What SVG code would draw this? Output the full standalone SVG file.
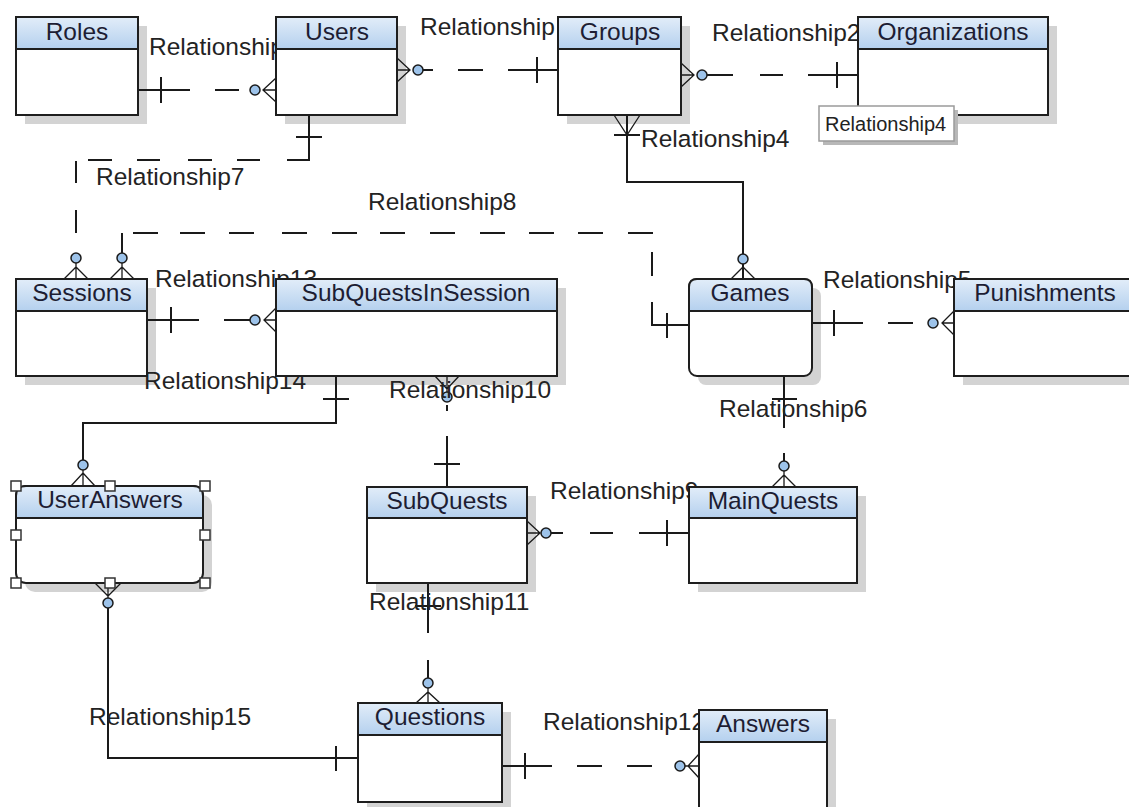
<svg xmlns="http://www.w3.org/2000/svg" width="1129" height="807" viewBox="0 0 1129 807">
<defs>
<linearGradient id="hg" x1="0" y1="0" x2="0" y2="1">
<stop offset="0" stop-color="#e2edf9"/>
<stop offset="1" stop-color="#b4d0ee"/>
</linearGradient>
<style>
.shadow{fill:#d3d3d3}
.box{fill:#fff;stroke:#1e1e1e;stroke-width:2}
.hdr{fill:url(#hg);stroke:#1e1e1e;stroke-width:2}
.title{font-family:"Liberation Sans",Arial,sans-serif;font-size:24.5px;fill:#1d1d33;text-anchor:middle}
.lbl{font-family:"Liberation Sans",Arial,sans-serif;font-size:24.5px;fill:#232323}
.ln{stroke:#1a1a1a;stroke-width:2;fill:none}
.tk{stroke:#1a1a1a;stroke-width:2;fill:none}
.cf{stroke:#1a1a1a;stroke-width:1.3;fill:none}
.dot{fill:#9dc3ea;stroke:#1a1a1a;stroke-width:1.5}
.hd{fill:#fff;stroke:#333;stroke-width:1.5}
</style>
</defs>
<rect width="1129" height="807" fill="#fff"/>

<g id="shadows">
<rect class="shadow" x="25" y="26" width="122" height="98"/>
<rect class="shadow" x="285" y="26" width="121" height="98"/>
<rect class="shadow" x="567" y="26" width="123" height="98"/>
<rect class="shadow" x="867" y="26" width="190" height="98"/>
<rect class="shadow" x="25" y="288" width="131" height="97"/>
<rect class="shadow" x="285" y="288" width="281" height="97"/>
<rect class="shadow" x="698" y="288" width="123" height="97" rx="8"/>
<rect class="shadow" x="963" y="288" width="185" height="97"/>
<rect class="shadow" x="25" y="495" width="187" height="97" rx="10"/>
<rect class="shadow" x="376" y="496" width="160" height="96"/>
<rect class="shadow" x="698" y="496" width="168" height="96"/>
<rect class="shadow" x="367" y="712" width="144" height="99"/>
<rect class="shadow" x="708" y="719" width="128" height="110"/>
</g>

<g id="connectors">
<g id="rel1">
<path class="ln" d="M138,90H190 M215,90H239"/>
<path class="tk" d="M161,77V103"/>
<path class="cf" d="M276,78L263,90L276,102 M263,90H276"/>
<circle class="dot" cx="255" cy="90" r="5"/>
<text class="lbl" x="149" y="55">Relationship</text>
</g>
<g id="rel3">
<path class="cf" d="M397,58L410,70L397,82 M397,70H410"/>
<circle class="dot" cx="418" cy="70" r="5"/>
<path class="ln" d="M423,70H433 M458,70H483 M508,70H558"/>
<path class="tk" d="M537,57V83"/>
<text class="lbl" x="420" y="35">Relationship</text>
</g>
<g id="rel2">
<path class="cf" d="M681,63L694,75L681,87 M681,75H694"/>
<circle class="dot" cx="702" cy="75" r="5"/>
<path class="ln" d="M707,75H733 M760,75H783 M808,75H858"/>
<path class="tk" d="M837,62V88"/>
<text class="lbl" x="712" y="41">Relationship2</text>
</g>
<g id="rel4">
<path class="ln" d="M627,115V182H743V279"/>
<path class="cf" d="M614,115L627,135L640,115 M731,279L743,267L755,279"/>
<path class="tk" d="M614,135H640"/>
<circle class="dot" cx="743" cy="259" r="5"/>
<text class="lbl" x="641" y="147">Relationship4</text>
</g>
<g id="rel7">
<path class="ln" d="M309,115V160H287 M260,160H237 M212,160H188 M160,160H137 M112,160H88 M76,161V183 M76,210V233"/>
<path class="tk" d="M296,137H322"/>
<path class="cf" d="M64,279L76,267L88,279 M76,263V279"/>
<circle class="dot" cx="76" cy="258" r="5"/>
<text class="lbl" x="96" y="185">Relationship7</text>
</g>
<g id="rel8">
<path class="ln" d="M122,253V233 M133,233H158 M180,233H205 M229,233H254 M282,233H307 M332,233H357 M380,233H405 M430,233H455 M480,233H505 M529,233H554 M578,233H603 M628,233H653 M652,252V276 M652,302V325H689"/>
<path class="tk" d="M667,313V338"/>
<path class="cf" d="M110,279L122,267L134,279 M122,263V279"/>
<circle class="dot" cx="122" cy="258" r="5"/>
<text class="lbl" x="368" y="210">Relationship8</text>
</g>
<g id="rel13">
<path class="ln" d="M147,320H199 M224,320H250"/>
<path class="tk" d="M171,307V333"/>
<path class="cf" d="M276,308L264,320L276,332 M264,320H276"/>
<circle class="dot" cx="255" cy="320" r="5"/>
<text class="lbl" x="155" y="287">Relationship13</text>
</g>
<g id="rel5">
<path class="ln" d="M812,323H863 M888,323H913"/>
<path class="tk" d="M834,310V336"/>
<path class="cf" d="M954,311L942,323L954,335 M942,323H954"/>
<circle class="dot" cx="933" cy="323" r="5"/>
<text class="lbl" x="823" y="288">Relationship5</text>
</g>
<g id="rel14">
<path class="ln" d="M336,376V423H83V460"/>
<path class="tk" d="M323,399H349"/>
<path class="cf" d="M71,486L83,473L95,486 M83,470V486"/>
<circle class="dot" cx="83" cy="465" r="5"/>
<text class="lbl" x="144" y="389">Relationship14</text>
</g>
<g id="rel10">
<path class="cf" d="M435,376L447,389L459,376 M447,376V392"/>
<circle class="dot" cx="447" cy="397" r="5"/>
<path class="ln" d="M447,405V411 M447,436V487"/>
<path class="tk" d="M434,464H460"/>
<text class="lbl" x="389" y="398">Relationship10</text>
</g>
<g id="rel6">
<path class="ln" d="M784,376V428 M784,453V461"/>
<path class="tk" d="M772,399H797"/>
<path class="cf" d="M772,487L784,475L796,487 M784,471V487"/>
<circle class="dot" cx="784" cy="466" r="5"/>
<text class="lbl" x="719" y="417">Relationship6</text>
</g>
<g id="rel9">
<path class="cf" d="M527,521L540,533L527,545 M527,533H540"/>
<circle class="dot" cx="546" cy="533" r="5"/>
<path class="ln" d="M551,533H563 M590,533H613 M639,533H689"/>
<path class="tk" d="M667,520V546"/>
<text class="lbl" x="550" y="499">Relationship9</text>
</g>
<g id="rel11">
<path class="ln" d="M428,583V633 M428,660V678"/>
<path class="tk" d="M415,606H441"/>
<path class="cf" d="M416,703L428,692L440,703 M428,688V703"/>
<circle class="dot" cx="428" cy="683" r="5"/>
<text class="lbl" x="369" y="610">Relationship11</text>
</g>
<g id="rel12">
<path class="ln" d="M502,766H552 M577,766H602 M627,766H652"/>
<path class="tk" d="M525,753V779"/>
<path class="cf" d="M699,754L688,766L699,778 M685,766H699"/>
<circle class="dot" cx="680" cy="766" r="5"/>
<text class="lbl" x="543" y="730">Relationship12</text>
</g>
<g id="rel15">
<path class="cf" d="M95,583L108,596L121,583 M108,583V598"/>
<circle class="dot" cx="108" cy="603" r="5"/>
<path class="ln" d="M108,608V758H358"/>
<path class="tk" d="M336,746V771"/>
<text class="lbl" x="89" y="725">Relationship15</text>
</g>
</g>

<g id="roles">
<rect class="box" x="16" y="17" width="122" height="98"/>
<rect class="hdr" x="16" y="17" width="122" height="32"/>
<text class="title" x="77" y="40">Roles</text>
</g>
<g id="users">
<rect class="box" x="276" y="17" width="121" height="98"/>
<rect class="hdr" x="276" y="17" width="121" height="32"/>
<text class="title" x="337" y="40">Users</text>
</g>
<g id="groups">
<rect class="box" x="558" y="17" width="123" height="98"/>
<rect class="hdr" x="558" y="17" width="123" height="32"/>
<text class="title" x="620" y="40">Groups</text>
</g>
<g id="organizations">
<rect class="box" x="858" y="17" width="190" height="98"/>
<rect class="hdr" x="858" y="17" width="190" height="32"/>
<text class="title" x="953" y="40">Organizations</text>
</g>
<g id="sessions">
<rect class="box" x="16" y="279" width="131" height="97"/>
<rect class="hdr" x="16" y="279" width="131" height="32"/>
<text class="title" x="82" y="301">Sessions</text>
</g>
<g id="subquestsinsession">
<rect class="box" x="276" y="279" width="281" height="97"/>
<rect class="hdr" x="276" y="279" width="281" height="32"/>
<text class="title" x="416" y="301">SubQuestsInSession</text>
</g>
<g id="games">
<rect class="box" x="689" y="279" width="123" height="97" rx="8"/>
<path class="hdr" d="M689,311V287Q689,279 697,279H804Q812,279 812,287V311Z"/>
<text class="title" x="750" y="301">Games</text>
</g>
<g id="punishments">
<rect class="box" x="954" y="279" width="185" height="97"/>
<rect class="hdr" x="954" y="279" width="185" height="32"/>
<text class="title" x="1045" y="301">Punishments</text>
</g>
<g id="useranswers">
<rect class="box" x="16" y="486" width="187" height="97" rx="10"/>
<path class="hdr" d="M16,518V496Q16,486 26,486H193Q203,486 203,496V518Z"/>
<text class="title" x="110" y="508">UserAnswers</text>
<rect class="hd" x="11" y="481" width="10" height="10"/>
<rect class="hd" x="105" y="481" width="10" height="10"/>
<rect class="hd" x="200" y="481" width="10" height="10"/>
<rect class="hd" x="11" y="530" width="10" height="10"/>
<rect class="hd" x="200" y="530" width="10" height="10"/>
<rect class="hd" x="11" y="578" width="10" height="10"/>
<rect class="hd" x="105" y="578" width="10" height="10"/>
<rect class="hd" x="200" y="578" width="10" height="10"/>
</g>
<g id="subquests">
<rect class="box" x="367" y="487" width="160" height="96"/>
<rect class="hdr" x="367" y="487" width="160" height="31"/>
<text class="title" x="447" y="509">SubQuests</text>
</g>
<g id="mainquests">
<rect class="box" x="689" y="487" width="168" height="96"/>
<rect class="hdr" x="689" y="487" width="168" height="31"/>
<text class="title" x="773" y="509">MainQuests</text>
</g>
<g id="questions">
<rect class="box" x="358" y="703" width="144" height="99"/>
<rect class="hdr" x="358" y="703" width="144" height="32"/>
<text class="title" x="430" y="725">Questions</text>
</g>
<g id="answers">
<rect class="box" x="699" y="710" width="128" height="110"/>
<rect class="hdr" x="699" y="710" width="128" height="32"/>
<text class="title" x="763" y="732">Answers</text>
</g>

<g id="tooltip">
<rect x="823" y="110" width="135" height="35" fill="#b8b8b8"/>
<rect x="819" y="106" width="135" height="35" fill="#fff" stroke="#9a9a9a" stroke-width="1.5"/>
<text x="825" y="131" font-family="'Liberation Sans',Arial,sans-serif" font-size="20" fill="#222">Relationship4</text>
</g>
</svg>
